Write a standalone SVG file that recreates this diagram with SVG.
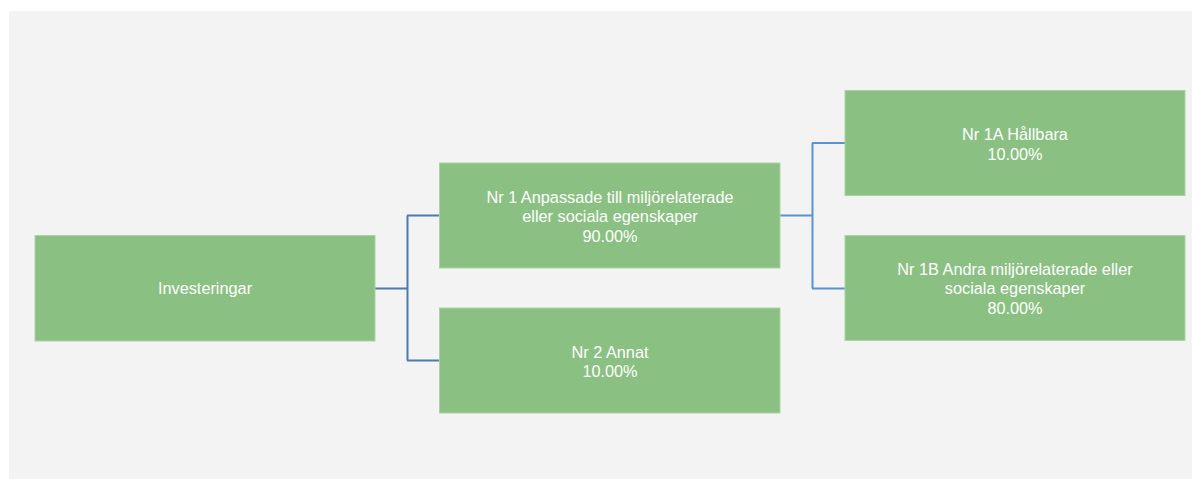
<svg xmlns="http://www.w3.org/2000/svg" width="1192" height="479" viewBox="0 0 1192 479">
<style>
.box{fill:#8AC182;stroke:#A9D3A2;stroke-width:1}
.t{font-family:"Liberation Sans",Arial,sans-serif;font-size:16.3px;fill:#FFFFFF;text-anchor:middle}
.c1{fill:none;stroke:#4A7AAE;stroke-width:2}
.c2{fill:none;stroke:#5B93CF;stroke-width:2}
</style>
<rect x="0" y="0" width="1192" height="479" fill="#FFFFFF"/>
<rect x="9" y="11" width="1183" height="468" fill="#F3F3F3"/>
<g id="connectors">
<path class="c1" d="M375 288.5H407.5M407.5 215.5V360.5M407 215.5H440M407 360.5H440"/>
<path class="c2" d="M780 215.5H812.5M812.5 143V288.5M812 143H845M812 288.5H845"/>
</g>
<g id="investeringar">
<rect class="box" x="35" y="235.5" width="340" height="105.5"/>
<text class="t" x="205" y="294">Investeringar</text>
</g>
<g id="nr1">
<rect class="box" x="439.5" y="163" width="340.5" height="105"/>
<text class="t" x="610" y="202.5">Nr 1 Anpassade till miljörelaterade</text>
<text class="t" x="610" y="222">eller sociala egenskaper</text>
<text class="t" x="610" y="241.5">90.00%</text>
</g>
<g id="nr2">
<rect class="box" x="439.5" y="308" width="340.5" height="105"/>
<text class="t" x="610" y="357.5">Nr 2 Annat</text>
<text class="t" x="610" y="377">10.00%</text>
</g>
<g id="nr1a">
<rect class="box" x="845" y="90.5" width="340" height="105"/>
<text class="t" x="1015" y="140">Nr 1A Hållbara</text>
<text class="t" x="1015" y="159.5">10.00%</text>
</g>
<g id="nr1b">
<rect class="box" x="845" y="235.5" width="340" height="105"/>
<text class="t" x="1015" y="274.5">Nr 1B Andra miljörelaterade eller</text>
<text class="t" x="1015" y="294">sociala egenskaper</text>
<text class="t" x="1015" y="313.5">80.00%</text>
</g>
</svg>
